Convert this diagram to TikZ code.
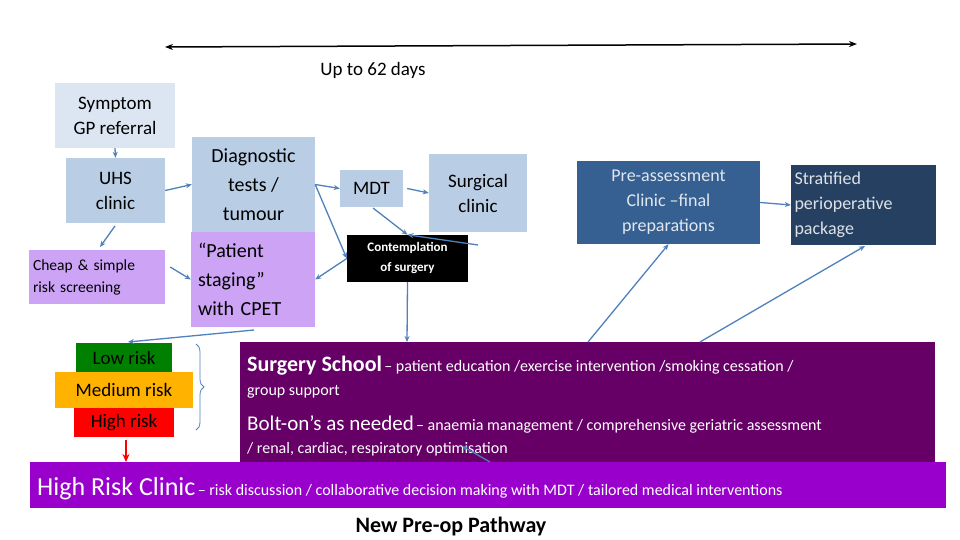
\documentclass[tikz,border=0pt]{standalone}
\usepackage{fontspec}
\setmainfont{Carlito}
\usetikzlibrary{arrows.meta,decorations.pathreplacing}
\definecolor{lb}{HTML}{B9CDE5}
\definecolor{llb}{HTML}{DCE6F2}
\definecolor{lav}{HTML}{CCA3F5}
\definecolor{ab}{HTML}{4F81BD}
\definecolor{pa}{HTML}{376092}
\definecolor{st}{HTML}{254061}
\definecolor{ss}{HTML}{660066}
\definecolor{hr}{HTML}{9900CC}
\begin{document}
\begin{tikzpicture}[x=1pt,y=-1pt,
  box/.style={inner sep=0pt,align=center,font=\fontsize{19}{25}\selectfont},
  ar/.style={-{Stealth[length=6pt,width=5pt]},ab,line width=1.3pt}]
\useasboundingbox (0,0) rectangle (960,540);
\fill[white] (0,0) rectangle (960,540);
% timeline
\coordinate (t1) at (165,47); \coordinate (t2) at (857,44);
\draw[{Stealth[length=8pt]}-{Stealth[length=8pt]},line width=1.5pt] (t1) -- (t2);
\node[font=\fontsize{19}{22}\selectfont] (up) at (373,70) {Up to 62 days};
% boxes
\node[box,fill=llb,minimum width=120,minimum height=65] (sym) at (115,115.5) {Symptom\\GP referral};
\node[box,fill=lb,minimum width=99,minimum height=65] (uhs) at (115.5,190.5) {UHS\\clinic};
\node[box,fill=lb,minimum width=123,minimum height=95,font=\fontsize{20}{29}\selectfont] (dia) at (253.5,184.5) {Diagnostic\\tests /\\tumour};
\node[box,fill=lav,minimum width=124,minimum height=95,align=left,text width=110,font=\fontsize{20}{29}\selectfont] (pst) at (253,279.5) {“Patient\\staging”\\with CPET};
\node[box,fill=lav,minimum width=136,minimum height=54,align=left,text width=128,font=\fontsize{15.5}{22}\selectfont] (chp) at (97,277) {Cheap \& simple\\risk screening};
\node[box,fill=lb,minimum width=63,minimum height=37] (mdt) at (371.5,188.5) {MDT};
\node[box,fill=lb,minimum width=98,minimum height=78] (sur) at (478,193) {Surgical\\clinic};
\node[box,fill=black,text=white,minimum width=121,minimum height=47,font=\bfseries\fontsize{13}{20}\selectfont] (con) at (407.5,258.5) {Contemplation\\of surgery};
\node[box,fill=pa,text=white!85!pa,minimum width=183,minimum height=83,font=\fontsize{18}{25}\selectfont] (pre) at (668.5,202.5) {Pre-assessment\\Clinic –final\\preparations};
\node[box,fill=st,text=white!85!st,minimum width=145,minimum height=80,align=left,text width=138,font=\fontsize{18}{25}\selectfont] (str) at (863.5,205) {Stratified\\perioperative\\package};
% surgery school
\node[fill=ss,minimum width=695,minimum height=120,inner sep=0pt] (ssb) at (587.5,402) {};
\node[anchor=base west,text=white,inner sep=0pt] (l1) at (247,371) {{\bfseries\fontsize{22}{24}\selectfont Surgery School} {\fontsize{16}{18}\selectfont – patient education /exercise intervention /smoking cessation /}};
\node[anchor=base west,text=white,inner sep=0pt,font=\fontsize{16}{18}\selectfont] (l2) at (247,395) {group support};
\node[anchor=base west,text=white,inner sep=0pt] (l3) at (247,430) {{\fontsize{21}{24}\selectfont Bolt-on’s as needed} {\fontsize{16}{18}\selectfont – anaemia management / comprehensive geriatric assessment}};
\node[anchor=base west,text=white,inner sep=0pt,font=\fontsize{16}{18}\selectfont] (l4) at (247,453) {/ renal, cardiac, respiratory optimisation};
% high risk clinic
\node[fill=hr,minimum width=916,minimum height=46,inner sep=0pt] (hrc) at (488,485) {};
\node[anchor=base west,text=white,inner sep=0pt] (hrt) at (37,495) {{\fontsize{26}{28}\selectfont High Risk Clinic} {\fontsize{16}{18}\selectfont – risk discussion / collaborative decision making with MDT / tailored medical interventions}};
% risk boxes
\node[box,fill=green!50!black,minimum width=96,minimum height=29] (low) at (124,357.5) {Low risk};
\node[box,fill=orange!60!yellow,minimum width=138,minimum height=36] (med) at (124,390) {Medium risk};
\node[box,fill=red,minimum width=100,minimum height=29] (hig) at (124,422.5) {High risk};
\draw[ab,line width=0.8pt,decoration={brace,amplitude=8pt},decorate] (196,344) -- (196,430);
\node[font=\bfseries\fontsize{22}{24}\selectfont] (np) at (451,527) {New Pre-op Pathway};
% arrows
\draw[-{Stealth[length=8pt,width=7pt]},red,line width=2pt] (hig.south) ++(2,3) coordinate (r1) -- (126,462);
\draw[ar] (sym.south) -- (uhs.north);
\draw[ar] (uhs.east) -- (dia.west);
\draw[ar] (115,226) -- (100,247);
\draw[ar] (chp.east) ++(5,-10) -- (pst.west);
\draw[ar] (dia.east) -- (mdt.west);
\draw[ar] (dia.east) -- (con.west);
\draw[ar] (con.west) -- (pst.east);
\draw[ar] (mdt.east) ++(4,0) -- (sur.west);
\draw[ar] (373,208) -- (con.north);
\draw[ar] (478,245) -- (con.north);
\draw[ar] (con.south) -- (407,342);
\draw[ar] (254,330) -- (128,342);
\draw[ar] (588,342) -- (pre.south);
\draw[ar] (700,342) -- (865,246);
\draw[ar] (490,462) -- (462,446);
\draw[ar] (pre.east) -- (str.west);
\end{tikzpicture}
\end{document}
